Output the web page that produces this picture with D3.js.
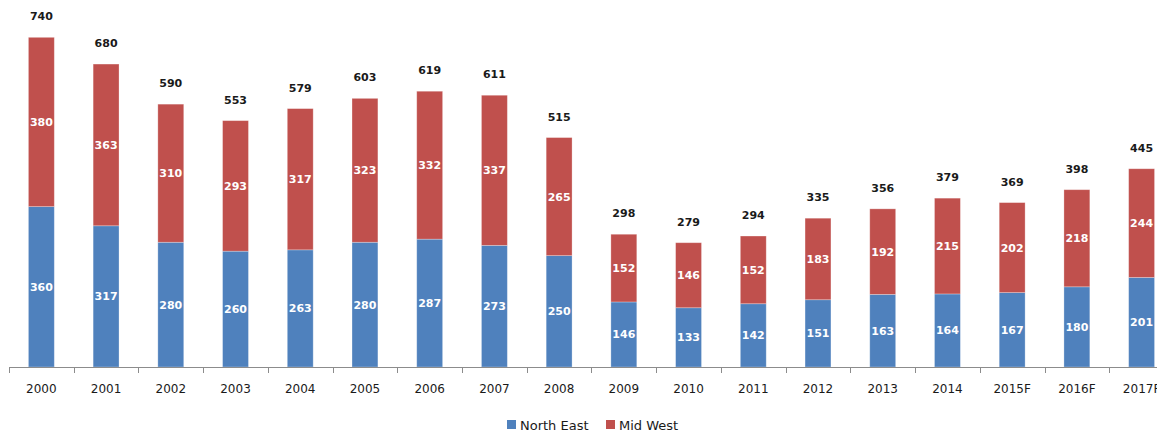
<!DOCTYPE html>
<html>
<head>
<meta charset="utf-8">
<script src="https://cdn.jsdelivr.net/npm/d3@7/dist/d3.min.js"></script>
<style>
  html, body { margin: 0; padding: 0; background: #fff; }
  svg { display: block; font-family: "DejaVu Sans", Verdana, sans-serif; }
</style>
</head>
<body>
<svg id="chart" width="1157" height="432"></svg>
<script>
const categories = ["2000","2001","2002","2003","2004","2005","2006","2007","2008",
  "2009","2010","2011","2012","2013","2014","2015F","2016F","2017F"];
const northEast = [360,317,280,260,263,280,287,273,250,146,133,142,151,163,164,167,180,201];
const midWest   = [380,363,310,293,317,323,332,337,265,152,146,152,183,192,215,202,218,244];
const totals    = [740,680,590,553,579,603,619,611,515,298,279,294,335,356,379,369,398,445];
const seriesNames = ["North East", "Mid West"];
const colors = ["#4f81bd", "#c0504d"];

const svg = d3.select("#chart");
const W = 1157, H = 432;
const baseY = 367;
const step = 64.72;
const x0 = 9;

const x = d3.scaleBand()
  .domain(categories)
  .range([x0, x0 + step * categories.length])
  .padding(0);

const y = d3.scaleLinear().domain([0, 800]).range([baseY, baseY - 800 * 0.4455]);

const barFrac = 0.4;
const bw = x.bandwidth() * barFrac;
const bx = c => x(c) + (x.bandwidth() - bw) / 2;

const rows = categories.map((c, i) => ({ cat: c, "North East": northEast[i], "Mid West": midWest[i], total: totals[i] }));
const stacked = d3.stack().keys(seriesNames)(rows);

// stacked bars
const layers = svg.append("g").selectAll("g")
  .data(stacked).join("g")
  .attr("fill", (d, i) => colors[i]);

layers.selectAll("rect")
  .data(d => d).join("rect")
  .attr("x", d => bx(d.data.cat))
  .attr("y", d => y(d[1]))
  .attr("width", bw)
  .attr("height", d => y(d[0]) - y(d[1]))
  .attr("stroke", "rgba(255,255,255,0.35)")
  .attr("stroke-width", 0.8);

// segment value labels
layers.selectAll("text")
  .data(d => d).join("text")
  .attr("x", d => bx(d.data.cat) + bw / 2)
  .attr("y", d => (y(d[0]) + y(d[1])) / 2)
  .attr("dy", "0.36em")
  .attr("text-anchor", "middle")
  .attr("fill", "#ffffff")
  .attr("font-size", 11)
  .attr("font-weight", "bold")
  .text(d => d[1] - d[0]);

// totals above bars
svg.append("g").selectAll("text")
  .data(rows).join("text")
  .attr("x", d => bx(d.cat) + bw / 2)
  .attr("y", d => y(d["North East"] + d["Mid West"]) - 21)
  .attr("dy", "0.36em")
  .attr("text-anchor", "middle")
  .attr("fill", "#1a1a1a")
  .attr("font-size", 11)
  .attr("font-weight", "bold")
  .text(d => d.total);

// category axis with ticks between bands
const axisG = svg.append("g").attr("transform", `translate(0,${baseY})`);
axisG.append("line")
  .attr("x1", x0).attr("x2", W)
  .attr("y1", 0.5).attr("y2", 0.5)
  .attr("stroke", "#8c8c8c").attr("stroke-width", 1);
axisG.selectAll("line.tick")
  .data(categories).join("line")
  .attr("class", "tick")
  .attr("x1", d => Math.round(x(d)) + 0.5)
  .attr("x2", d => Math.round(x(d)) + 0.5)
  .attr("y1", 0).attr("y2", 6)
  .attr("stroke", "#8c8c8c");
axisG.selectAll("text")
  .data(categories).join("text")
  .attr("x", d => x(d) + x.bandwidth() / 2)
  .attr("y", 22)
  .attr("dy", "0.36em")
  .attr("text-anchor", "middle")
  .attr("fill", "#1a1a1a")
  .attr("font-size", 12)
  .text(d => d);

// legend
const legend = svg.append("g").attr("transform", "translate(507,425)");
const legendX = [0, 99];
seriesNames.forEach((name, i) => {
  const g = legend.append("g").attr("transform", `translate(${legendX[i]},0)`);
  g.append("rect").attr("x", 0).attr("y", -5).attr("width", 9).attr("height", 9).attr("fill", colors[i]);
  g.append("text").attr("x", 13).attr("y", 0).attr("dy", "0.36em")
    .attr("font-size", 13).attr("fill", "#1a1a1a").text(name);
});
</script>
</body>
</html>
